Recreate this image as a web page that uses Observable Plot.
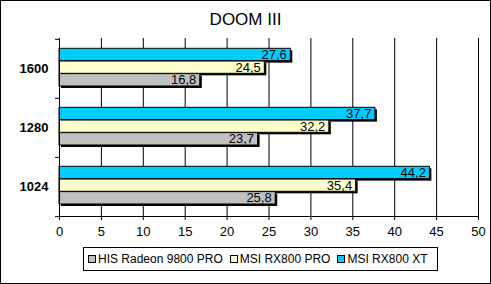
<!DOCTYPE html>
<html>
<head>
<meta charset="utf-8">
<script src="https://cdn.jsdelivr.net/npm/d3@7"></script>
<script src="https://cdn.jsdelivr.net/npm/@observablehq/plot@0.6"></script>
<style>
  html, body { margin: 0; padding: 0; background: #fff; }
  #page { position: relative; width: 491px; height: 284px; overflow: hidden; font-family: "Liberation Sans", Arial, sans-serif; color: #000; }
  #border { position: absolute; left: 0; top: 0; width: 491px; height: 284px; box-sizing: border-box; border: 1px solid #000; pointer-events: none; }
  #title { position: absolute; left: 0; top: 10px; width: 491px; text-align: center; font-size: 17px; }
  #chart { position: absolute; left: 0; top: 0; }
  #legend { position: absolute; left: 83px; top: 247px; width: 355px; height: 24px; box-sizing: border-box; border: 1px solid #000; display: flex; align-items: center; padding-left: 4px; font-size: 12px; white-space: nowrap; }
  .item { display: flex; align-items: center; margin-right: 7px; }
  .sw { width: 6px; height: 6px; border: 1px solid #000; margin-right: 2px; }
</style>
</head>
<body>
<div id="page">
  <div id="chart"></div>
  <div id="title"></div>
  <div id="legend"></div>
  <div id="border"></div>
</div>
<script>
const chartTitle = "DOOM III";
const resolutions = ["1600", "1280", "1024"];
const seriesNames = ["HIS Radeon 9800 PRO", "MSI RX800 PRO", "MSI RX800 XT"];
const hisValues = [16.8, 23.7, 25.8];
const rxProValues = [24.5, 32.2, 35.4];
const rxXtValues = [27.6, 37.7, 44.2];
const xTicks = [0, 5, 10, 15, 20, 25, 30, 35, 40, 45, 50];
const seriesColors = ["#C0C0C0", "#FFFFCC", "#00CCFF"];

const seriesValues = [hisValues, rxProValues, rxXtValues];
const rows = [];
seriesNames.forEach((s, si) => resolutions.forEach((r, ri) => rows.push({res: r, series: s, value: seriesValues[si][ri]})));

// layout
const W = 491, H = 245;
const mTop = 38, mBottom = 29;
const band = (H - mTop - mBottom) / resolutions.length;
const slot = 12.67, topGap = 9.3;
// slot index within band (top to bottom): XT, PRO, HIS
const slotIndex = {"MSI RX800 XT": 0, "MSI RX800 PRO": 1, "HIS Radeon 9800 PRO": 2};
function insets(s) {
  const i = slotIndex[s];
  return {insetTop: topGap + i * slot, insetBottom: band - topGap - (i + 1) * slot};
}
const order = ["HIS Radeon 9800 PRO", "MSI RX800 PRO", "MSI RX800 XT"];
const shadows = order.map(s => Plot.barX(rows.filter(d => d.series === s), {x: "value", y: "res", fill: "black", dx: 2, dy: 2, ...insets(s)}));
const bars = order.map(s => Plot.barX(rows.filter(d => d.series === s), {x: "value", y: "res", fill: seriesColors[seriesNames.indexOf(s)], stroke: "black", strokeWidth: 1, ...insets(s)}));
const labels = order.map(s => {
  const i = slotIndex[s];
  const off = topGap + (i + 0.5) * slot - band / 2;
  return Plot.text(rows.filter(d => d.series === s), {x: "value", y: "res", text: d => d.value.toFixed(1).replace(".", ","), textAnchor: "end", dx: -4, dy: off, fill: "black", fontSize: 13});
});

const plot = Plot.plot({
  width: W, height: H,
  marginLeft: 59, marginRight: 13, marginTop: mTop, marginBottom: mBottom,
  style: {fontFamily: "'Liberation Sans', Arial, sans-serif", fontSize: "13px", color: "black", background: "transparent", overflow: "visible"},
  x: {domain: [0, 50], axis: null, label: null},
  y: {domain: resolutions, padding: 0, axis: null, label: null},
  marks: [
    Plot.gridX(xTicks, {stroke: "black", strokeOpacity: 1}),
    ...shadows,
    ...bars,
    ...labels,
    Plot.frame({anchor: "left"}),
    Plot.frame({anchor: "bottom"}),
    Plot.axisX(xTicks, {anchor: "bottom", label: null, tickSize: 4, tickPadding: 6, fontSize: 13}),
    Plot.axisY({anchor: "left", label: null, tickSize: 0, tickPadding: 11, fontWeight: "bold", fontSize: 13}),
    Plot.axisY({anchor: "left", label: null, text: null, tickSize: 4, dy: -band / 2}),
    Plot.axisY(["1024"], {anchor: "left", label: null, text: null, tickSize: 4, dy: band / 2})
  ]
});
document.getElementById("chart").appendChild(plot);
document.getElementById("title").textContent = chartTitle;

const legend = document.getElementById("legend");
seriesNames.forEach((s, i) => {
  const it = document.createElement("div");
  it.className = "item";
  const sw = document.createElement("div");
  sw.className = "sw";
  sw.style.background = seriesColors[i];
  const tx = document.createElement("span");
  tx.textContent = s;
  it.appendChild(sw); it.appendChild(tx);
  legend.appendChild(it);
});
</script>
</body>
</html>
